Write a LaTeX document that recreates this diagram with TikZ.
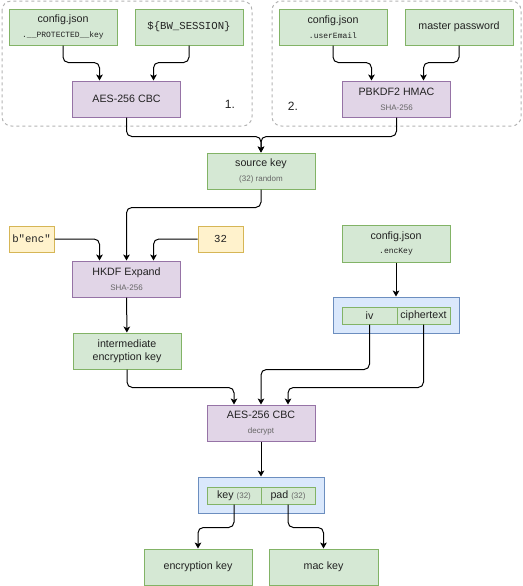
\documentclass[tikz,border=0pt]{standalone}
\usepackage{fontspec}
\setmainfont{Liberation Sans}
\setmonofont{Liberation Mono}
\usetikzlibrary{arrows.meta,calc}

\definecolor{grfill}{HTML}{D5E8D4}
\definecolor{grline}{HTML}{82B366}
\definecolor{pufill}{HTML}{E1D5E7}
\definecolor{puline}{HTML}{9673A6}
\definecolor{yefill}{HTML}{FFF2CC}
\definecolor{yeline}{HTML}{D6B656}
\definecolor{blfill}{HTML}{DAE8FC}
\definecolor{blline}{HTML}{6C8EBF}
\definecolor{grpline}{HTML}{B3B3B3}
\definecolor{subgray}{HTML}{666666}
\definecolor{textdark}{HTML}{222222}

\newcommand{\subtxt}[1]{{\fontsize{6}{7}\selectfont\color{subgray}#1}}
\newcommand{\monotxt}[1]{{\ttfamily\fontsize{6}{7}\selectfont #1}}

\tikzset{every picture/.style={line width=0.75pt}}

\begin{document}
\begin{tikzpicture}[x=0.75pt,y=0.75pt,yscale=-1,xscale=1,
  basebox/.style={draw,rectangle,minimum width=81pt,minimum height=27pt,inner sep=0pt,align=center,text=textdark,font=\fontsize{8}{10}\selectfont},
  greenbox/.style={basebox,draw=grline,fill=grfill},
  purplebox/.style={basebox,draw=puline,fill=pufill},
  yellowbox/.style={basebox,draw=yeline,fill=yefill,minimum width=33.75pt,minimum height=19.5pt,font=\ttfamily\fontsize{8}{10}\selectfont},
  bluebox/.style={basebox,draw=blline,fill=blfill,minimum width=94.5pt},
  cellbox/.style={basebox,draw=grline,fill=grfill,minimum height=12.75pt},
  groupbox/.style={draw=grpline,dashed,dash pattern=on 2.25pt off 2.25pt,rounded corners=7pt},
  conn/.style={draw=black,rounded corners=4pt,-{Stealth[length=4.5pt,width=5pt,inset=1.2pt]}}]
\useasboundingbox (0,0) rectangle (523,586);

%group 1: protected key
\draw[groupbox] (2,1) rectangle (252,126);
%group 2: master password
\draw[groupbox] (272,1) rectangle (521,126);

% top row
\node[greenbox] (cfga) at (63,27) {config.json\\[1pt]\monotxt{.\_\_PROTECTED\_\_key}};
\node[greenbox] (sess) at (189,27) {\ttfamily\fontsize{8}{10}\selectfont\$\{BW\_SESSION\}};
\node[greenbox] (cfgb) at (333,27) {config.json\\[1pt]\monotxt{.userEmail}};
\node[greenbox] (mpw) at (459,27) {master password};

% derivation
\node[purplebox] (aesa) at (126.5,99) {AES-256 CBC};
\node[purplebox] (pbkdf) at (396.5,99) {PBKDF2 HMAC\\[1pt]\subtxt{SHA-256}};
\node[font=\fontsize{9}{10}\selectfont,text=textdark] (numa) at (230,104) {1.};
\node[font=\fontsize{9}{10}\selectfont,text=textdark] (numb) at (293,106) {2.};

\node[greenbox] (srckey) at (261,171) {source key\\[1pt]\subtxt{(32) random}};

% hkdf
\node[yellowbox] (benc) at (31.5,239) {b"enc"};
\node[yellowbox] (len) at (220.5,239) {32};
\node[purplebox] (hkdf) at (126.5,279) {HKDF Expand\\[1pt]\subtxt{SHA-256}};
\node[greenbox] (interkey) at (127,351) {intermediate\\encryption key};

% enc key
\node[greenbox,minimum height=27.75pt] (cfgc) at (396,243.5) {config.json\\[1pt]\monotxt{.encKey}};
\node[bluebox] (ivct) at (396,315) {};
\node[cellbox,minimum width=41.25pt] (iv) at (369.5,315.5) {iv};
\node[cellbox,minimum width=39.75pt] (ctext) at (423.5,315.5) {ciphertext};

\node[purplebox] (aesb) at (261,423) {AES-256 CBC\\[1pt]\subtxt{decrypt}};

% split
\node[bluebox] (split) at (261,495) {};
\node[cellbox,minimum width=40.5pt] (keyc) at (234,495.5) {key \subtxt{(32)}};
\node[cellbox,minimum width=40.5pt] (padc) at (288,495.5) {pad \subtxt{(32)}};

\node[greenbox] (enckey) at (198,567) {encryption key};
\node[greenbox,minimum width=81.75pt] (mackey) at (323.5,567) {mac key};

% connectors
\draw[conn] (cfga.south) -- ++(0,17) -| ($(aesa.north)+(-27,0)$);
\draw[conn] (sess.south) -- ++(0,17) -| ($(aesa.north)+(27,0)$);
\draw[conn] (cfgb.south) -- ++(0,17) -| ($(pbkdf.north)+(-25,0)$);
\draw[conn] (mpw.south) -- ++(0,17) -| ($(pbkdf.north)+(27,0)$);
\draw[conn] (aesa.south) -- ++(0,19) -| (srckey.north);
\draw[conn] (pbkdf.south) -- ++(0,19) -| (srckey.north);

\draw[conn] (srckey.south) -- ++(0,18) -| (hkdf.north);
\draw[conn] (benc.east) -| ($(hkdf.north)+(-27,0)$);
\draw[conn] (len.west) -| ($(hkdf.north)+(27,0)$);
\draw[conn] (hkdf) -- (interkey);

\draw[conn] (cfgc) -- (ivct);
\draw[conn] (interkey.south) -- ++(0,18) -| ($(aesb.north)+(-27,0)$);
\draw[conn] (iv.south) -- ++(0,45) -| (aesb.north);
\draw[conn] (ctext.south) -- ++(0,63) -| ($(aesb.north)+(27,0)$);

\draw[conn] (aesb) -- (split);
\draw[conn] (keyc.south) -- ++(0,23) -| (enckey.north);
\draw[conn] (padc.south) -- ++(0,23) -| (mackey.north);

\end{tikzpicture}
\end{document}
